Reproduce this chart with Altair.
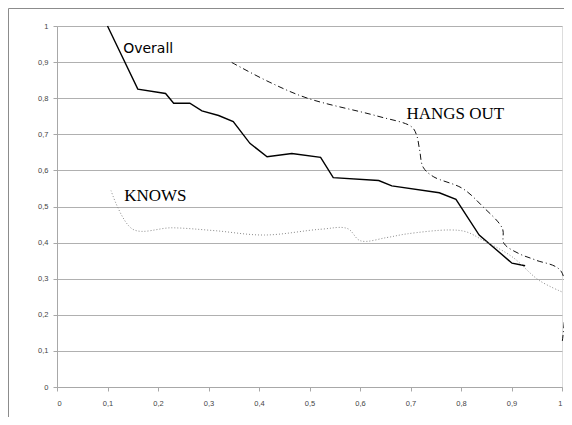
import altair as alt
import pandas as pd

# Overall (solid)
overall_x = [0.10, 0.16, 0.215, 0.231, 0.263, 0.287, 0.32, 0.349, 0.382, 0.416,
             0.465, 0.522, 0.547, 0.637, 0.663, 0.757, 0.790, 0.836, 0.901, 0.927]
overall_y = [1.0, 0.825, 0.813, 0.786, 0.786, 0.765, 0.752, 0.735, 0.675, 0.638,
             0.647, 0.636, 0.580, 0.572, 0.557, 0.538, 0.520, 0.421, 0.343, 0.336]

# HANGS OUT (dash-dot)
hangs_x = [0.346, 0.42, 0.496, 0.633, 0.702, 0.712, 0.718, 0.725, 0.745, 0.803,
           0.843, 0.882, 0.885, 0.914, 0.947, 0.999, 1.0]
hangs_y = [0.899, 0.845, 0.800, 0.751, 0.721, 0.698, 0.657, 0.609, 0.583, 0.550,
           0.500, 0.439, 0.398, 0.370, 0.352, 0.319, 0.12]

# KNOWS (dotted)
knows_x = [0.107, 0.150, 0.228, 0.313, 0.411, 0.522, 0.575, 0.601, 0.653, 0.692,
           0.777, 0.810, 0.843, 0.901, 0.954, 0.999]
knows_y = [0.544, 0.437, 0.441, 0.433, 0.421, 0.437, 0.439, 0.405, 0.414, 0.424,
           0.435, 0.430, 0.407, 0.361, 0.296, 0.264]

labels = ["Overall", "KNOWS", "HANGS OUT"]
label_x = [0.131, 0.133, 0.692]
label_y = [0.925, 0.515, 0.742]

tick_vals = [round(i * 0.1, 1) for i in range(11)]


def df(xs, ys):
    return pd.DataFrame({"x": xs, "y": ys, "i": list(range(len(xs)))})


lab_expr = "replace(format(datum.value, '.1~f'), '.', ',')"
xscale = alt.Scale(domain=[0, 1], nice=False, zero=True)
yscale = alt.Scale(domain=[0, 1], nice=False)

xaxis = alt.Axis(values=tick_vals, labelExpr=lab_expr, title=None, grid=False,
                 tickSize=4, labelPadding=8, domainColor="#a8a8a8",
                 tickColor="#a8a8a8", labelColor="#444444", labelOverlap=False,
                 labelFont="Liberation Sans", labelFontSize=7.5)
yaxis = alt.Axis(values=tick_vals, labelExpr=lab_expr, title=None, grid=True,
                 gridColor="#b0b0b0", tickSize=4, labelPadding=5, labelOverlap=False,
                 domainColor="#a8a8a8", tickColor="#a8a8a8",
                 labelColor="#444444", labelFont="Liberation Sans",
                 labelFontSize=7.5)


def X():
    return alt.X("x:Q", scale=xscale, axis=xaxis)


def Y():
    return alt.Y("y:Q", scale=yscale, axis=yaxis)


overall = alt.Chart(df(overall_x, overall_y)).mark_line(
    color="#000000", strokeWidth=1.4).encode(x=X(), y=Y(), order="i:Q")

hangs = alt.Chart(df(hangs_x, hangs_y)).mark_line(
    color="#111111", strokeWidth=1, strokeDash=[6, 3, 1, 3],
    interpolate="catmull-rom").encode(x=X(), y=Y(), order="i:Q")

knows = alt.Chart(df(knows_x, knows_y)).mark_line(
    color="#8a8a8a", strokeWidth=1, strokeDash=[1, 2],
    interpolate="catmull-rom").encode(x=X(), y=Y(), order="i:Q")

lab_df = pd.DataFrame({"x": label_x, "y": label_y, "t": labels})
txt_overall = alt.Chart(lab_df.iloc[[0]]).mark_text(
    align="left", baseline="alphabetic", font="DejaVu Sans", fontSize=14,
    color="#000000").encode(x=X(), y=Y(), text="t:N")
txt_other = alt.Chart(lab_df.iloc[[1, 2]]).mark_text(
    align="left", baseline="alphabetic", font="Liberation Serif", fontSize=17,
    color="#000000").encode(x=X(), y=Y(), text="t:N")

frame = alt.Chart(pd.DataFrame({"a": [0]})).mark_rect(
    fill=None, stroke="#8c8c8c", strokeWidth=1).encode(
    x=alt.value(-48.5), x2=alt.value(530), y=alt.value(-17.5), y2=alt.value(420))

chart = alt.layer(frame, overall, hangs, knows, txt_overall, txt_other).properties(
    width=505, height=361,
    padding={"left": 49, "top": 18, "right": 2, "bottom": 30},
    autosize=alt.AutoSizeParams(type="none"),
).configure_view(stroke=None).configure(background="white")

chart.save("out.html", embed_options={"renderer": "svg", "actions": False})
